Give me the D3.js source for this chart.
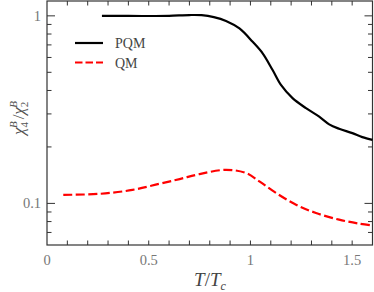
<!DOCTYPE html>
<html>
<head>
<meta charset="utf-8">
<script src="https://cdn.jsdelivr.net/npm/d3@7.9.0/dist/d3.min.js"></script>
<style>
  body { margin: 0; background: #fff; }
  svg { display: block; font-family: "Liberation Serif", "DejaVu Serif", serif; }
</style>
</head>
<body>
<div id="chart"></div>
<script>
// values
const pqmT   = [0.27, 0.4, 0.5, 0.6, 0.7, 0.76, 0.82, 0.88, 0.946, 1.011, 1.06, 1.109, 1.15, 1.207, 1.273, 1.338, 1.387, 1.436, 1.501, 1.55, 1.6];
const pqmVal = [1.0, 1.0, 0.998, 1.0, 1.01, 1.008, 0.985, 0.94, 0.857, 0.727, 0.631, 0.514, 0.428, 0.364, 0.322, 0.290, 0.264, 0.250, 0.237, 0.2255, 0.218];
const qmT    = [0.08, 0.26, 0.42, 0.55, 0.652, 0.75, 0.881, 0.979, 1.044, 1.126, 1.224, 1.322, 1.436, 1.534, 1.6];
const qmVal  = [0.111, 0.1125, 0.118, 0.127, 0.1348, 0.1433, 0.151, 0.145, 0.131, 0.1136, 0.0984, 0.0889, 0.0819, 0.078, 0.0763];

const xLabels = [0, 0.5, 1, 1.5];
const xMinor = d3.range(1, 16).map(i => i / 10);
const yLabels = [0.1, 1];
const yMinor = [0.07, 0.08, 0.09, 0.2, 0.3, 0.4, 0.5, 0.6, 0.7, 0.8, 0.9];
const series = [
  { name: 'PQM', xs: pqmT, ys: pqmVal, color: '#000', dash: null },
  { name: 'QM', xs: qmT, ys: qmVal, color: '#ff0000', dash: '9,3.5' }
];

const W = 374, H = 292;
const m = { left: 47, right: 1.5, top: 1, bottom: 47 };

const svg = d3.select('#chart').append('svg').attr('width', W).attr('height', H);

const x = d3.scaleLinear().domain([0, 1.6]).range([m.left, W - m.right]);
const y = d3.scaleLog().domain([0.06, 1.2]).range([H - m.bottom, m.top]);

const axisColor = '#333';
const labelColor = '#777';

// ticks, pointing inward on all four sides
function drawTicks(g, vals, len, side) {
  vals.forEach(v => {
    if (side === 'bottom') g.append('line').attr('x1', x(v)).attr('x2', x(v)).attr('y1', y.range()[0]).attr('y2', y.range()[0] - len);
    if (side === 'top') g.append('line').attr('x1', x(v)).attr('x2', x(v)).attr('y1', y.range()[1]).attr('y2', y.range()[1] + len);
    if (side === 'left') g.append('line').attr('y1', y(v)).attr('y2', y(v)).attr('x1', x.range()[0]).attr('x2', x.range()[0] + len);
    if (side === 'right') g.append('line').attr('y1', y(v)).attr('y2', y(v)).attr('x1', x.range()[1]).attr('x2', x.range()[1] - len);
  });
}

const tg = svg.append('g').attr('stroke', axisColor).attr('stroke-width', 1);
const xTicks = [...new Set([...xMinor, ...xLabels.filter(d => d > 0)])];
drawTicks(tg, xTicks, 4.5, 'bottom');
drawTicks(tg, xTicks, 4.5, 'top');
drawTicks(tg, yMinor, 4.5, 'left');
drawTicks(tg, yMinor, 4.5, 'right');
drawTicks(tg, yLabels, 8, 'left');
drawTicks(tg, yLabels, 8, 'right');

// frame
svg.append('rect')
  .attr('x', x.range()[0]).attr('y', y.range()[1])
  .attr('width', x.range()[1] - x.range()[0]).attr('height', y.range()[0] - y.range()[1])
  .attr('fill', 'none').attr('stroke', axisColor).attr('stroke-width', 1.2);

// tick labels
svg.append('g').selectAll('text').data(xLabels).join('text')
  .attr('x', d => x(d)).attr('y', 265)
  .attr('text-anchor', 'middle').attr('font-size', 14.5).attr('fill', labelColor)
  .text(d => d);
svg.append('g').selectAll('text').data(yLabels).join('text')
  .attr('x', 41).attr('y', d => y(d) + 5)
  .attr('text-anchor', 'end').attr('font-size', 14.5).attr('fill', labelColor)
  .text(d => d);

// curves
const line = d3.line().curve(d3.curveCatmullRom.alpha(0.5));
series.forEach(s => {
  const pts = s.xs.map((t, i) => [x(t), y(s.ys[i])]);
  svg.append('path')
    .attr('d', line(pts))
    .attr('fill', 'none').attr('stroke', s.color).attr('stroke-width', 2.2)
    .attr('stroke-dasharray', s.dash);
});

// legend
series.forEach((s, i) => {
  const ly = 43 + i * 19.5;
  svg.append('line').attr('x1', 75).attr('x2', 103).attr('y1', ly).attr('y2', ly)
    .attr('stroke', s.color).attr('stroke-width', 2.2).attr('stroke-dasharray', s.dash ? '7.5,3' : null);
  svg.append('text').attr('x', 115).attr('y', ly + 5).attr('font-size', 14).attr('fill', '#444').text(s.name);
});

// axis titles
const xt = svg.append('text').attr('x', 210).attr('y', 286).attr('text-anchor', 'middle')
  .attr('font-size', 19).attr('fill', '#444').attr('font-style', 'italic');
xt.append('tspan').text('T');
xt.append('tspan').attr('font-style', 'normal').text('/');
xt.append('tspan').text('T');
xt.append('tspan').attr('font-size', 12).attr('dy', 4).text('c');

const yt = svg.append('text').attr('transform', 'translate(24,118) rotate(-90)')
  .attr('text-anchor', 'middle').attr('font-size', 17).attr('fill', '#555').attr('font-style', 'italic');
yt.append('tspan').text('χ');
yt.append('tspan').attr('font-size', 11).attr('font-style', 'normal').attr('dy', 4).text('4');
yt.append('tspan').attr('font-size', 11).attr('dx', -6).attr('dy', -11).text('B');
yt.append('tspan').attr('font-style', 'normal').attr('dx', 2).attr('dy', 7).text('/');
yt.append('tspan').text('χ');
yt.append('tspan').attr('font-size', 11).attr('font-style', 'normal').attr('dy', 4).text('2');
yt.append('tspan').attr('font-size', 11).attr('dx', -6).attr('dy', -11).text('B');
</script>
</body>
</html>
